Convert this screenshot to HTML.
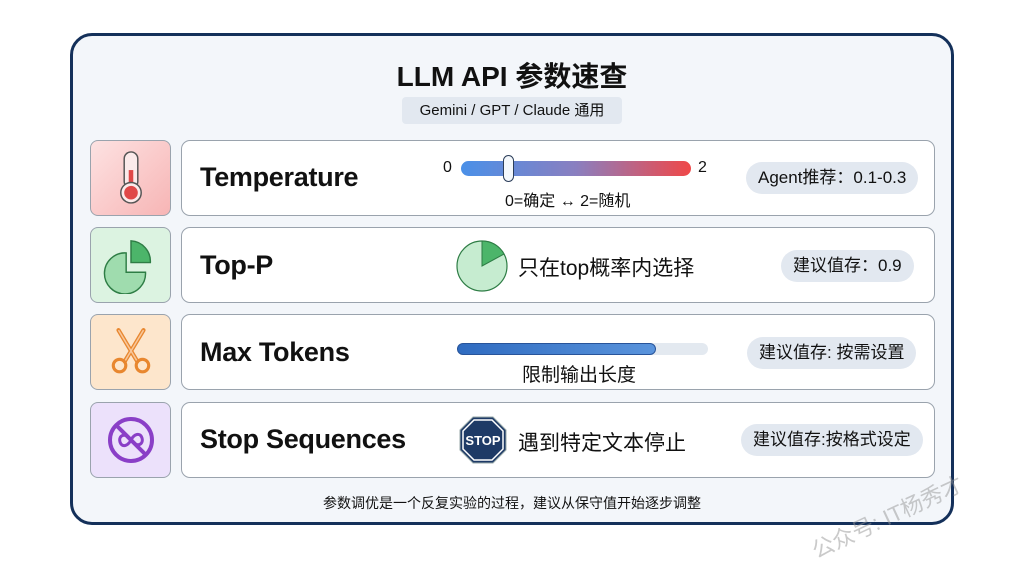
<!DOCTYPE html>
<html><head><meta charset="utf-8"><style>
*{margin:0;padding:0;box-sizing:border-box}
body{width:1024px;height:559px;background:#fff;position:relative;overflow:hidden;font-family:"Liberation Sans","Noto Sans CJK SC",sans-serif;color:#111}
.a{position:absolute}
.frame{left:70px;top:33px;width:884px;height:492px;border:3px solid #14305a;border-radius:22px;background:#f3f6fa}
.ib{left:90px;width:81px;height:76px;border:1px solid #9aa3ad;border-radius:8px;display:flex;align-items:center;justify-content:center}
.card{left:181px;width:754px;height:76px;border:1px solid #9aa3ad;border-radius:9px;background:#fff}
.t{left:200px;font-size:27px;font-weight:bold;letter-spacing:-0.3px}
.pill{background:#e2e8f0;border-radius:16px;font-size:16px;padding:0 12px;height:32px;line-height:32px}
.cn{font-size:21px}
</style></head><body>
<div class="a frame"></div>
<div class="a" style="left:0;width:1024px;top:55px;text-align:center;font-size:28px;font-weight:bold">LLM API 参数速查</div>
<div class="a" style="left:402px;top:97px;width:220px;height:27px;background:#e2e8f0;border-radius:4px;font-size:15px;text-align:center;line-height:27px">Gemini / GPT / Claude 通用</div>

<div class="a ib" style="top:140px;background:linear-gradient(135deg,#fde2e2,#f7b5b5)">
<svg width="34" height="62" viewBox="0 0 30 50"><rect x="9" y="2" width="12" height="32" rx="6" fill="#fbeaea" stroke="#555" stroke-width="1.3"/><rect x="13" y="18" width="4" height="18" fill="#e04848"/><circle cx="15" cy="38" r="9" fill="#fbeaea" stroke="#555" stroke-width="1.3"/><circle cx="15" cy="38" r="6" fill="#e04848"/></svg></div>
<div class="a ib" style="top:227px;background:#dcf3e1">
<svg width="58" height="58" viewBox="0 0 48 48"><path d="M20 14 A17 17 0 1 0 36 30 L20 30 Z" fill="#9fdcae" stroke="#2e7d45" stroke-width="1.2"/><path d="M24 4 A17 17 0 0 1 40 22 L24 22 Z" fill="#4cb56a" stroke="#2e7d45" stroke-width="1.2"/></svg></div>
<div class="a ib" style="top:314px;background:#fde6cc">
<svg width="50" height="54" viewBox="0 0 48 50"><path d="M12 4 L30 34 M36 4 L18 34" stroke="#e8872f" stroke-width="4" stroke-linecap="round"/><path d="M12 4 L30 34 M36 4 L18 34" stroke="#f8c79a" stroke-width="1.5"/><circle cx="13" cy="38" r="6" fill="none" stroke="#e8872f" stroke-width="3"/><circle cx="35" cy="38" r="6" fill="none" stroke="#e8872f" stroke-width="3"/></svg></div>
<div class="a ib" style="top:402px;background:#ece1fb">
<svg width="50" height="50" viewBox="0 0 50 50"><circle cx="25" cy="25" r="21" fill="none" stroke="#8a3fc7" stroke-width="4"/><path d="M11 11 L39 39" stroke="#8a3fc7" stroke-width="4"/><path d="M25 25 C20 17 12 20 14 27 C16 33 22 31 25 25 C28 19 34 17 36 23 C38 30 30 33 25 25Z" fill="none" stroke="#8a3fc7" stroke-width="3"/></svg></div>

<div class="a card" style="top:140px"></div>
<div class="a card" style="top:227px"></div>
<div class="a card" style="top:314px"></div>
<div class="a card" style="top:402px"></div>

<div class="a t" style="top:162px">Temperature</div>
<div class="a t" style="top:250px">Top-P</div>
<div class="a t" style="top:337px">Max Tokens</div>
<div class="a t" style="top:424px">Stop Sequences</div>

<div class="a" style="left:443px;top:159px;font-size:16px">0</div>
<div class="a" style="left:698px;top:159px;font-size:16px">2</div>
<div class="a" style="left:461px;top:161px;width:230px;height:15px;border-radius:8px;background:linear-gradient(90deg,#4a90e8,#8a7fc0,#f04848)"></div>
<div class="a" style="left:503px;top:155px;width:11px;height:27px;border-radius:6px;background:#f4f8fc;border:1.5px solid #2c3e5a"></div>
<div class="a" style="left:505px;top:187px;font-size:16px">0=确定 ↔ 2=随机</div>
<div class="a pill" style="left:746px;top:162px;font-size:17px">Agent推荐：0.1-0.3</div>

<svg class="a" style="left:455px;top:239px" width="54" height="54" viewBox="0 0 54 54"><circle cx="27" cy="27" r="25" fill="#c6ecd0" stroke="#2e7d45" stroke-width="1.2"/><path d="M27 27 L27 2 A25 25 0 0 1 49 15 Z" fill="#4cb56a" stroke="#2e7d45" stroke-width="1"/></svg>
<div class="a cn" style="left:518px;top:252px">只在top概率内选择</div>
<div class="a pill" style="left:781px;top:250px;font-size:17px">建议值存：0.9</div>

<div class="a" style="left:457px;top:343px;width:251px;height:12px;border-radius:6px;background:#e3e9f0"></div>
<div class="a" style="left:457px;top:343px;width:199px;height:12px;border-radius:6px;background:linear-gradient(90deg,#2f6bc0,#5a94dc);border:1px solid #28549a"></div>
<div class="a" style="left:522px;top:360px;font-size:19px">限制输出长度</div>
<div class="a pill" style="left:747px;top:337px;font-size:17px">建议值存: 按需设置</div>

<svg class="a" style="left:459px;top:416px" width="48" height="48" viewBox="0 0 48 48"><polygon points="14,1 34,1 47,14 47,34 34,47 14,47 1,34 1,14" fill="#1e3a66" stroke="#9aa" stroke-width="1"/><polygon points="15,4 33,4 44,15 44,33 33,44 15,44 4,33 4,15" fill="none" stroke="#fff" stroke-width="1.5"/><text x="24" y="29" text-anchor="middle" font-family="Liberation Sans" font-weight="bold" font-size="13" fill="#fff">STOP</text></svg>
<div class="a cn" style="left:518px;top:427px">遇到特定文本停止</div>
<div class="a pill" style="left:741px;top:424px;font-size:17px">建议值存:按格式设定</div>

<div class="a" style="left:0;width:1024px;top:493px;text-align:center;font-size:14px">参数调优是一个反复实验的过程，建议从保守值开始逐步调整</div>
<div class="a" style="left:805px;top:500px;font-size:22px;color:rgba(150,150,150,0.5);transform:rotate(-25deg)">公众号: IT杨秀才</div>
</body></html>
